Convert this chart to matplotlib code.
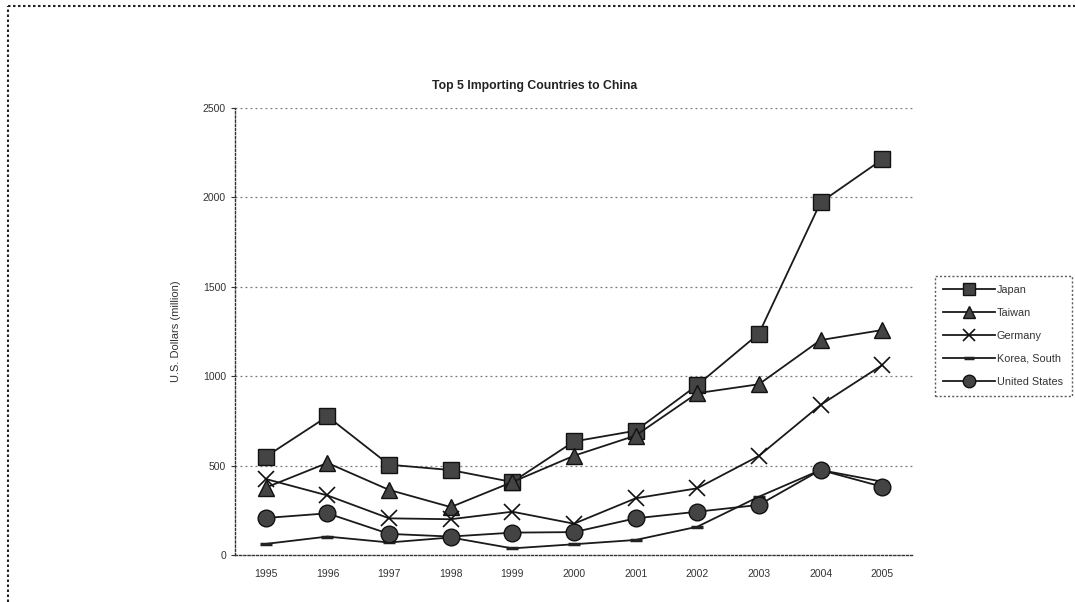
import matplotlib
matplotlib.use('Agg')
import matplotlib.pyplot as plt
from matplotlib.lines import Line2D

years = ['1995', '1996', '1997', '1998', '1999', '2000',
         '2001', '2002', '2003', '2004', '2005']

japan = [550, 775, 505, 475, 408, 635, 695, 950, 1238, 1972, 2212]
taiwan = [377, 515, 364, 268, 408, 555, 668, 905, 955, 1202, 1258]
germany = [425, 333, 205, 200, 242, 175, 317, 373, 554, 839, 1062]
korea = [62, 103, 70, 98, 37, 60, 84, 158, 326, 475, 410]
united_states = [207, 233, 118, 103, 125, 128, 205, 242, 280, 475, 382]

series_names = ['Japan', 'Taiwan', 'Germany', 'Korea, South', 'United States']
y_ticks = [0, 500, 1000, 1500, 2000, 2500]

plt.rcParams['font.family'] = ['Liberation Sans', 'DejaVu Sans']

fig = plt.figure(figsize=(10.75, 6.02), dpi=100)
fig.patch.set_facecolor('white')
ax = fig.add_axes([0.2186, 0.0781, 0.6307, 0.7425])

x = list(range(len(years)))
fill = '#444444'
styles = [
    dict(marker='s', markersize=11, markerfacecolor=fill, markeredgecolor='#111111'),
    dict(marker='^', markersize=11, markerfacecolor=fill, markeredgecolor='#111111'),
    dict(marker='x', markersize=11, markeredgewidth=1.2, markeredgecolor='#111111'),
    dict(marker='_', markersize=9, markeredgewidth=2.5, markeredgecolor='#222222'),
    dict(marker='o', markersize=12, markerfacecolor=fill, markeredgecolor='#111111'),
]

for values, name, st in zip([japan, taiwan, germany, korea, united_states],
                            series_names, styles):
    ax.plot(x, values, color='#1a1a1a', linewidth=1.3, label=name, **st)

ax.set_xlim(-0.5, len(years) - 0.5)
ax.set_ylim(0, 2500)
ax.set_yticks(y_ticks)
ax.set_xticks(x)
ax.set_xticklabels(years)
ax.tick_params(axis='both', labelsize=7.5, colors='#333333', length=3, width=0.8)
ax.tick_params(axis='x', length=0, pad=10)

# dotted horizontal grid
for y in y_ticks[1:]:
    ax.axhline(y, color='#777777', linestyle=(0, (1.5, 2.5)), linewidth=0.9, zorder=0)

for side in ['top', 'right']:
    ax.spines[side].set_visible(False)
for side in ['left', 'bottom']:
    ax.spines[side].set_linestyle((0, (1.5, 1.5)))
    ax.spines[side].set_color('#333333')
    ax.spines[side].set_linewidth(1.0)

ax.set_ylabel('U.S. Dollars (million)', fontsize=8, color='#333333', labelpad=16)
fig.text(0.497, 0.857, 'Top 5 Importing Countries to China', ha='center',
         va='center', fontsize=8.8, fontweight='bold', color='#222222')

leg = ax.legend(loc='center left', bbox_to_anchor=(1.032, 0.49), fontsize=7.8,
                frameon=True, fancybox=False, borderpad=0.8, labelspacing=1.2,
                handlelength=4.8, handletextpad=0.15, markerscale=0.75,
                borderaxespad=0)
leg.get_frame().set_edgecolor('#333333')
leg.get_frame().set_linestyle((0, (1.5, 1.5)))
leg.get_frame().set_linewidth(1.0)
for t in leg.get_texts():
    t.set_color('#333333')

# dotted outer border of the chart area
fig.add_artist(Line2D([8 / 1075, 1.0], [1 - 6 / 602, 1 - 6 / 602],
                      transform=fig.transFigure, color='#222222',
                      linestyle=(0, (1.2, 1.2)), linewidth=1.5))
fig.add_artist(Line2D([8 / 1075, 8 / 1075], [0.0, 1 - 6 / 602],
                      transform=fig.transFigure, color='#222222',
                      linestyle=(0, (1.2, 1.2)), linewidth=1.5))

fig.savefig('out.png', dpi=100)
